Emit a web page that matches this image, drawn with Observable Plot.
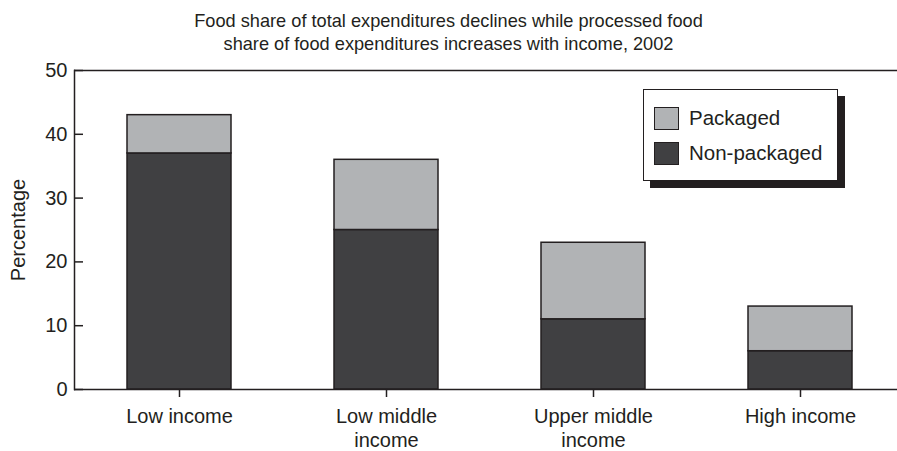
<!DOCTYPE html>
<html>
<head>
<meta charset="utf-8">
<script src="https://cdn.jsdelivr.net/npm/d3@7"></script>
<script src="https://cdn.jsdelivr.net/npm/@observablehq/plot@0.6"></script>
<style>
  html, body { margin: 0; padding: 0; background: #fff; overflow: hidden; }
  body { width: 897px; height: 451px; position: relative; font-family: "Liberation Sans", Arial, Helvetica, sans-serif; color: #231f20; }
  #title { height: 58px; text-align: center; font-size: 18.2px; line-height: 23px; padding-top: 10px; box-sizing: border-box; }
  #legend { position: absolute; left: 643px; top: 89px; width: 195px; height: 92px; box-sizing: border-box;
            border: 1.5px solid #231f20; background: #fff; box-shadow: 7px 7px 0 #231f20; }
  .item { position: absolute; left: 10px; display: flex; align-items: center; font-size: 20.5px; }
  .sw { width: 25px; height: 23px; box-sizing: border-box; border: 1.5px solid #231f20; margin-right: 10px; }
</style>
</head>
<body>
<div id="title">Food share of total expenditures declines while processed food<br>share of food expenditures increases with income, 2002</div>
<div id="chart"></div>
<div id="legend"></div>
<script>
const categories = ["Low income", "Low middle\nincome", "Upper middle\nincome", "High income"];
const seriesNames = ["Non-packaged", "Packaged"];
const nonPackaged = [37, 25, 11, 6];
const packaged = [6, 11, 12, 7];
const yTicks = [0, 10, 20, 30, 40, 50];
const colors = ["#404042", "#b1b3b5"];

const rows = [];
categories.forEach((c, i) => rows.push({cat: c, series: seriesNames[0], value: nonPackaged[i]}));
categories.forEach((c, i) => rows.push({cat: c, series: seriesNames[1], value: packaged[i]}));

const W = 897, ML = 74;
const plot = Plot.plot({
  width: W,
  height: 393,
  marginLeft: ML,
  marginRight: 0,
  marginTop: 12,
  marginBottom: 62,
  style: {fontFamily: "'Liberation Sans', Arial, sans-serif", fontSize: "18px", color: "#231f20", background: "transparent"},
  x: {domain: categories, range: [74, 904], paddingInner: 0.5, paddingOuter: 0.25, align: 0.5},
  y: {domain: [0, 50]},
  color: {domain: seriesNames, range: colors},
  marks: [
    Plot.barY(rows, {x: "cat", y: "value", fill: "series", stroke: "#231f20", strokeWidth: 1.5}),
    Plot.ruleY([0, 50], {stroke: "#231f20", strokeWidth: 1.5}),
    Plot.ruleY(yTicks, {stroke: "#231f20", strokeWidth: 1.5, insetRight: W - ML - 9}),
    Plot.frame({anchor: "left", stroke: "#231f20", strokeWidth: 1.5}),
    Plot.axisY({ticks: yTicks, tickSize: 0, tickPadding: 7, fontSize: 20, stroke: "#231f20",
                label: "Percentage", labelAnchor: "center", labelArrow: false, labelOffset: 64}),
    Plot.axisX({tickSize: 8, tickPadding: 9, fontSize: 20, lineHeight: 1.17, stroke: "#231f20", strokeWidth: 1.5, label: null})
  ]
});
document.getElementById("chart").appendChild(plot);

const legend = document.getElementById("legend");
[seriesNames[1], seriesNames[0]].forEach((name, i) => {
  const item = document.createElement("div");
  item.className = "item";
  item.style.top = (i === 0 ? 16 : 51) + "px";
  const sw = document.createElement("div");
  sw.className = "sw";
  sw.style.background = colors[seriesNames.indexOf(name)];
  const t = document.createElement("span");
  t.textContent = name;
  item.appendChild(sw);
  item.appendChild(t);
  legend.appendChild(item);
});
</script>
</body>
</html>
